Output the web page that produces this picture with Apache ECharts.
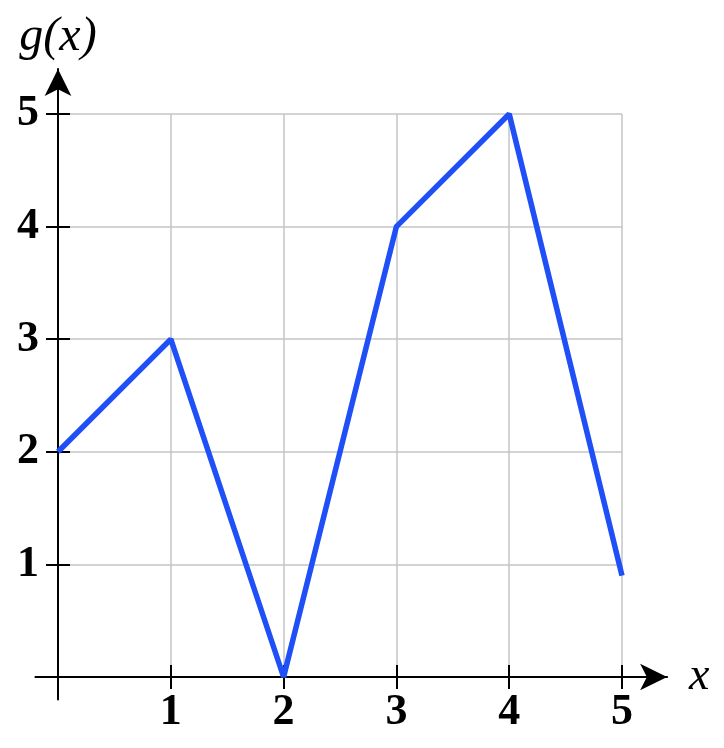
<!DOCTYPE html>
<html><head><meta charset="utf-8">
<script src="https://cdn.jsdelivr.net/npm/echarts@6/dist/echarts.min.js"></script>
<style>html,body{margin:0;padding:0;background:#fff}#c{width:724px;height:748px}</style>
</head><body><div id="c"></div>
<script>
const xValues = [0, 1, 2, 3, 4, 5];
const gValues = [2, 3, 0, 4, 5, 0.9];
const xTicks = [1, 2, 3, 4, 5];
const yTicks = [1, 2, 3, 4, 5];
const xName = 'x';
const yName = 'g(x)';

const X0 = 58, Y0 = 677, UX = 112.8, UY = 112.6;
const EXT_MIN = -0.2, EXT_MAX = 5.4;
const font = 'Liberation Serif';
const labelStyle = {color: '#000', fontFamily: font, fontSize: 44, fontWeight: 'bold'};
const tickStyle = {color: '#000', width: 2};

const chart = echarts.init(document.getElementById('c'));
chart.setOption({
  animation: false,
  grid: [
    {left: X0, top: Y0 - 5 * UY, width: 5 * UX, height: 5 * UY},
    {left: X0 + EXT_MIN * UX, width: (EXT_MAX - EXT_MIN) * UX, top: Y0 - 5 * UY, height: 5 * UY},
    {left: X0, width: 5 * UX, top: Y0 - EXT_MAX * UY, height: (EXT_MAX - EXT_MIN) * UY}
  ],
  xAxis: [
    {gridIndex: 0, type: 'value', min: 0, max: 5, interval: 1,
     axisLine: {show: false}, axisTick: {show: false}, axisLabel: {show: false},
     splitLine: {show: true, lineStyle: {color: '#c4c4c4', width: 1.5}}},
    {gridIndex: 1, type: 'value', min: EXT_MIN, max: EXT_MAX, position: 'bottom',
     axisLine: {show: true, onZero: false, symbol: ['none', 'arrow'], symbolSize: [20, 27], lineStyle: {color: '#000', width: 2}},
     axisTick: {show: true, customValues: xTicks, length: 12, lineStyle: tickStyle},
     axisLabel: {show: true, customValues: xTicks, margin: 14, ...labelStyle},
     splitLine: {show: false},
     name: xName, nameLocation: 'end', nameGap: 22,
     nameTextStyle: {color: '#000', fontFamily: font, fontStyle: 'italic', fontSize: 46, verticalAlign: 'middle', padding: [0, 0, 6, 0]}},
    {gridIndex: 1, type: 'value', min: EXT_MIN, max: EXT_MAX, position: 'top', offset: -5 * UY,
     axisLine: {show: false, onZero: false},
     axisTick: {show: true, inside: false, customValues: xTicks, length: 12, lineStyle: tickStyle},
     axisLabel: {show: false}, splitLine: {show: false}},
    {gridIndex: 2, type: 'value', min: 0, max: 5, show: false}
  ],
  yAxis: [
    {gridIndex: 0, type: 'value', min: 0, max: 5, interval: 1,
     axisLine: {show: false}, axisTick: {show: false}, axisLabel: {show: false},
     splitLine: {show: true, lineStyle: {color: '#c4c4c4', width: 1.5}}},
    {gridIndex: 1, type: 'value', min: 0, max: 5, show: false},
    {gridIndex: 2, type: 'value', min: EXT_MIN, max: EXT_MAX, position: 'left',
     axisLine: {show: true, onZero: false, symbol: ['none', 'arrow'], symbolSize: [20, 27], lineStyle: {color: '#000', width: 2}},
     axisTick: {show: true, customValues: yTicks, length: 12, lineStyle: tickStyle},
     axisLabel: {show: true, customValues: yTicks, margin: 19, ...labelStyle},
     splitLine: {show: false},
     name: yName, nameLocation: 'end', nameGap: 8,
     nameTextStyle: {color: '#000', fontFamily: font, fontStyle: 'italic', fontSize: 48, align: 'center'}},
    {gridIndex: 2, type: 'value', min: EXT_MIN, max: EXT_MAX, position: 'right', offset: -5 * UX,
     axisLine: {show: false, onZero: false},
     axisTick: {show: true, inside: false, customValues: yTicks, length: 12, lineStyle: tickStyle},
     axisLabel: {show: false}, splitLine: {show: false}}
  ],
  series: [{
    type: 'line', xAxisIndex: 0, yAxisIndex: 0,
    data: xValues.map((x, i) => [x, gValues[i]]),
    symbol: 'none', lineStyle: {color: '#1f4ff7', width: 5.5}, clip: false, z: 10
  }]
});
</script></body></html>
